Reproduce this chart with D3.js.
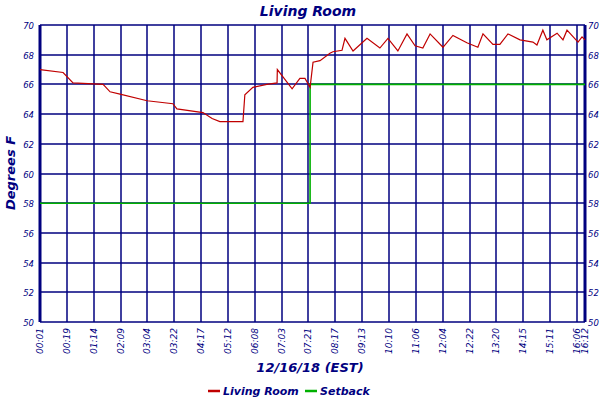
<!DOCTYPE html>
<html><head><meta charset="utf-8">
<script src="https://cdn.jsdelivr.net/npm/d3@7"></script>
<style>body{margin:0;background:#fff}text{font-family:"DejaVu Sans",sans-serif;font-style:italic;fill:#00007f}</style>
</head><body><svg id="c" width="600" height="400"></svg>
<script>
// Data (x in sample-index units, 0 = 00:01)
const tickLabels = ["00:01","00:19","01:14","02:09","03:04","03:22","04:17","05:12","06:08","07:03","07:21","08:17","09:13","10:10","11:06","12:04","12:22","13:20","14:15","15:11","16:06","16:12"];
const tickPos = d3.range(21).concat([20.3]);
const roomX = [0,0.86,1.23,2.35,2.61,2.98,3.99,4.95,5.10,6.07,6.41,6.70,7.56,7.63,7.93,8.45,8.83,8.84,9.05,9.39,9.68,9.87,10.06,10.17,10.43,10.80,10.91,11.25,11.36,11.66,12.18,12.66,12.96,13.33,13.67,13.97,14.26,14.53,15.01,15.38,15.9,16.31,16.5,16.87,17.13,17.43,17.88,18.36,18.51,18.73,18.88,19.26,19.48,19.63,20.04,20.19,20.3];
const roomY = [67.0,66.8,66.1,66.0,65.5,65.35,64.9,64.7,64.35,64.1,63.7,63.5,63.5,65.3,65.8,66.0,66.1,67.0,66.5,65.7,66.4,66.4,65.8,67.5,67.6,68.1,68.2,68.3,69.1,68.25,69.1,68.45,69.1,68.25,69.4,68.6,68.45,69.4,68.5,69.3,68.8,68.5,69.4,68.7,68.7,69.4,69.0,68.85,68.65,69.65,69.0,69.45,69.0,69.65,68.85,69.2,69.0];
const setbackX = [0,10.06,20.3];
const setbackY = [58,66,66];
const yTicks = d3.range(50,71,2);

const svg = d3.select("#c");
const x = d3.scaleLinear().domain([0,20.3]).range([40,585]);
const y = d3.scaleLinear().domain([50,70]).range([322,25]);
const navy = "#00007f";

// grid
svg.append("g").selectAll("line").data(yTicks).join("line")
  .attr("x1",40).attr("x2",585).attr("y1",d=>Math.round(y(d))).attr("y2",d=>Math.round(y(d)))
  .attr("stroke",navy).attr("stroke-width",1.5);
svg.append("g").selectAll("line").data(tickPos).join("line")
  .attr("x1",d=>Math.round(x(d))).attr("x2",d=>Math.round(x(d))).attr("y1",25).attr("y2",322)
  .attr("stroke",navy).attr("stroke-width",1.5);
// side axes
[40,585].forEach(px=>svg.append("line").attr("x1",px).attr("x2",px).attr("y1",25).attr("y2",322)
  .attr("stroke",navy).attr("stroke-width",3));

// y labels both sides
svg.append("g").selectAll("text").data(yTicks).join("text")
  .attr("x",34).attr("y",d=>y(d)+4).attr("text-anchor","end").attr("font-size",8.5).text(d=>d);
svg.append("g").selectAll("text").data(yTicks).join("text")
  .attr("x",588).attr("y",d=>y(d)+4).attr("font-size",8.5).text(d=>d);

// x labels rotated
svg.append("g").selectAll("text").data(tickLabels).join("text")
  .attr("transform",(d,i)=>`translate(${x(tickPos[i])+3},328) rotate(-90)`)
  .attr("text-anchor","end").attr("font-size",9).attr("font-style","normal")
  .text(d=>d);

svg.append("path").datum(setbackX.map((v,i)=>[v,setbackY[i]]))
  .attr("d",d3.line().x(d=>x(d[0])).y(d=>y(d[1])).curve(d3.curveStepAfter))
  .attr("fill","none").attr("stroke","#00b000").attr("stroke-width",1.6);
svg.append("path").datum(roomX.map((v,i)=>[v,roomY[i]]))
  .attr("d",d3.line().x(d=>x(d[0])).y(d=>y(d[1]))).attr("fill","none").attr("stroke","#c00000").attr("stroke-width",1.2);

// titles
svg.append("text").attr("x",308).attr("y",16).attr("text-anchor","middle")
  .attr("font-size",14).attr("font-weight","bold").text("Living Room");
svg.append("text").attr("transform","translate(15,173) rotate(-90)").attr("text-anchor","middle")
  .attr("font-size",13).attr("font-weight","bold").text("Degrees F");
svg.append("text").attr("x",310).attr("y",372).attr("text-anchor","middle")
  .attr("font-size",13).attr("font-weight","bold").text("12/16/18 (EST)");

// legend
const legend = [{n:"Living Room",c:"#c00000",x:208},{n:"Setback",c:"#00b000",x:305}];
legend.forEach(l=>{
  svg.append("line").attr("x1",l.x).attr("x2",l.x+12).attr("y1",391).attr("y2",391).attr("stroke",l.c).attr("stroke-width",2.5);
  svg.append("text").attr("x",l.x+15).attr("y",395).attr("font-size",11).attr("font-weight","bold").text(l.n);
});
</script></body></html>
